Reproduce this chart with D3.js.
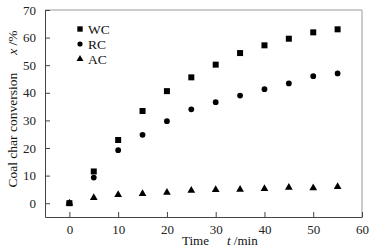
<!DOCTYPE html>
<html>
<head>
<meta charset="utf-8">
<script src="https://cdn.jsdelivr.net/npm/d3@7"></script>
<style>
  body { margin: 0; background: #fff; }
  svg, svg text { font-family: 'Liberation Serif', 'DejaVu Serif', serif !important; }
</style>
</head>
<body>
<div id="chart"></div>
<script>
const times = [0, 5, 10, 15, 20, 25, 30, 35, 40, 45, 50, 55]
const wc = [0, 11.5, 22.9, 33.4, 40.6, 45.6, 50.2, 54.4, 57.2, 59.6, 61.9, 63.0]
const rc = [0, 9.3, 19.2, 24.8, 29.7, 34.0, 36.6, 39.0, 41.3, 43.4, 46.0, 47.0]
const ac = [0, 2.0, 3.1, 3.4, 3.9, 4.6, 4.9, 5.0, 5.2, 5.7, 5.5, 6.0]
const seriesNames = ['WC', 'RC', 'AC']
const xTicks = [0, 10, 20, 30, 40, 50, 60]
const yTicks = [0, 10, 20, 30, 40, 50, 60, 70]

const width = 381
const height = 250
const margin = { top: 10, right: 19, bottom: 33, left: 45 }
const w = width - margin.left - margin.right
const h = height - margin.top - margin.bottom

const svg = d3.select('#chart')
  .append('svg')
  .attr('width', width)
  .attr('height', height)

const g = svg.append('g')
  .attr('transform', `translate(${margin.left},${margin.top})`)

const x = d3.scaleLinear().domain([-5, 60]).range([0, w])
const y = d3.scaleLinear().domain([-5, 70]).range([h, 0])

// frame: top and right lighter
g.append('line').attr('x1', 0).attr('x2', w).attr('y1', 0).attr('y2', 0)
  .attr('stroke', '#999').attr('stroke-width', 1)
g.append('line').attr('x1', w).attr('x2', w).attr('y1', 0).attr('y2', h)
  .attr('stroke', '#999').attr('stroke-width', 1)

const xAxis = g.append('g')
  .attr('transform', `translate(0,${h})`)
  .call(d3.axisBottom(x).tickValues(xTicks).tickSizeInner(-5).tickSizeOuter(0).tickPadding(8))
const yAxis = g.append('g')
  .call(d3.axisLeft(y).tickValues(yTicks).tickSizeInner(-5).tickSizeOuter(0).tickPadding(9))

;[xAxis, yAxis].forEach(a => {
  a.attr('font-family', null)
  a.select('.domain').attr('stroke', '#444')
  a.selectAll('.tick line').attr('stroke', '#444')
  a.selectAll('text').attr('font-size', 13).attr('fill', '#222')
})

const points = [
  { name: 'WC', values: wc, symbol: d3.symbolSquare, size: 36 },
  { name: 'RC', values: rc, symbol: d3.symbolCircle, size: 26 },
  { name: 'AC', values: ac, symbol: d3.symbolTriangle, size: 26 }
]

points.forEach(s => {
  g.selectAll(null)
    .data(s.values)
    .join('path')
    .attr('d', d3.symbol().type(s.symbol).size(s.size))
    .attr('transform', (d, i) => `translate(${x(times[i])},${y(d)})`)
    .attr('fill', '#000')
})

// legend
const legend = g.append('g').attr('transform', 'translate(35, 19)')
points.forEach((s, i) => {
  const row = legend.append('g').attr('transform', `translate(0, ${i * 15})`)
  row.append('path')
    .attr('d', d3.symbol().type(s.symbol).size(s.size * 0.8))
    .attr('fill', '#000')
  row.append('text')
    .attr('x', 8)
    .attr('y', 4.5)
    .attr('font-size', 13.5)
    .attr('fill', '#111')
    .text(seriesNames[i])
})

// axis titles
const xt = svg.append('text')
  .attr('x', 182)
  .attr('y', 245)
  .attr('font-size', 13)
  .attr('fill', '#111')
xt.append('tspan').text('Time')
xt.append('tspan').attr('dx', 18).attr('font-style', 'italic').text('t')
xt.append('tspan').text(' /min')

const yt = svg.append('text')
  .attr('transform', 'translate(17, 109) rotate(-90)')
  .attr('text-anchor', 'middle')
  .attr('font-size', 13.5)
  .attr('fill', '#111')
yt.append('tspan').text('Coal char conversion')
yt.append('tspan').attr('dx', 18).attr('font-style', 'italic').text('x')
yt.append('tspan').text(' /%')
</script>
</body>
</html>
